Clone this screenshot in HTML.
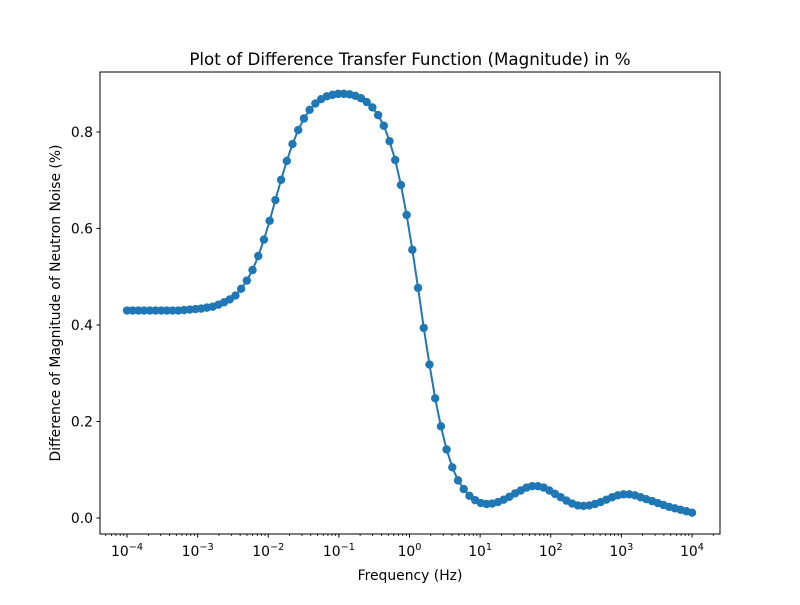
<!DOCTYPE html>
<html><head><meta charset="utf-8"><style>
body{margin:0;background:#fff;}
svg text{font-family:"DejaVu Sans","Liberation Sans",sans-serif;fill:#000;}
</style></head><body>
<svg id="chart" width="800" height="600" xmlns="http://www.w3.org/2000/svg">
<rect width="800" height="600" fill="#fff"/>
<text x="410" y="65" font-size="16.7" text-anchor="middle">Plot of Difference Transfer Function (Magnitude) in %</text>
<text x="410" y="580" font-size="13.9" text-anchor="middle">Frequency (Hz)</text>
<text x="0" y="0" font-size="13.9" text-anchor="middle" transform="translate(60,303) rotate(-90)">Difference of Magnitude of Neutron Noise (%)</text>
<g id="ticks"></g>
<g id="marks"></g>
<rect x="100" y="72" width="620" height="462" fill="none" stroke="#000" stroke-width="1"/>
</svg>
<script>
const yValues=[0.430,0.430,0.430,0.430,0.430,0.430,0.430,0.430,0.430,0.430,
0.431,0.432,0.433,0.434,0.436,0.438,0.442,0.447,0.453,0.461,
0.475,0.492,0.514,0.543,0.577,0.616,0.659,0.701,0.740,0.775,
0.804,0.828,0.846,0.859,0.868,0.874,0.877,0.879,0.879,0.878,
0.875,0.870,0.862,0.851,0.835,0.813,0.781,0.742,0.690,0.628,
0.556,0.477,0.394,0.318,0.248,0.190,0.142,0.105,0.078,0.060,
0.046,0.037,0.031,0.029,0.030,0.033,0.038,0.044,0.051,0.057,
0.063,0.066,0.066,0.063,0.057,0.050,0.043,0.036,0.030,0.026,
0.025,0.026,0.029,0.033,0.038,0.043,0.047,0.049,0.049,0.047,
0.043,0.039,0.035,0.031,0.027,0.023,0.020,0.017,0.014,0.011];
const logStart=-4, logEnd=4;
const xTickExps=[-4,-3,-2,-1,0,1,2,3,4];
const yTicks=[0.0,0.2,0.4,0.6,0.8];
const yTickLabels=["0.0","0.2","0.4","0.6","0.8"];

const NS="http://www.w3.org/2000/svg";
function X(lg){return 127+(lg+4)*(692-127)/8;}
function Y(v){return 518-v*(518-132)/0.8;}
function mk(t,a,p){const e=document.createElementNS(NS,t);for(const k in a)e.setAttribute(k,a[k]);p.appendChild(e);return e;}
const tk=document.getElementById('ticks'), mg=document.getElementById('marks');
xTickExps.forEach(e=>{
  const x=X(e);
  const l=mk('line',{x1:x,x2:x,y1:534,y2:537.5,stroke:'#000'},tk);
  
  
  const t=mk('text',{x:x,y:556,'font-size':'13.9','text-anchor':'middle'},tk);
  
  
  t.textContent='10';
  const s=mk('tspan',{dy:-6,'font-size':'9.7'},t); s.textContent=String(e).replace('-','\u2212');
});
for(let e=-5;e<=4;e++){for(let m=2;m<=9;m++){const lg=e+Math.log10(m);const x=X(lg);if(x<100||x>720)continue;
  const l=mk('line',{x1:x,x2:x,y1:534,y2:536,stroke:'#000','stroke-width':0.8},tk);
  
  }}
yTicks.forEach((v,i)=>{
  const y=Y(v);
  const l=mk('line',{x1:96.5,x2:100,y1:y,y2:y,stroke:'#000'},tk);
  
  
  const t=mk('text',{x:93,y:y+5,'font-size':'13.9','text-anchor':'end'},tk);
  
  
  t.textContent=yTickLabels[i];
});
const n=yValues.length;
const pts=yValues.map((v,i)=>[X(logStart+(logEnd-logStart)*i/(n-1)),Y(v)]);
const pl=mk('polyline',{points:pts.map(p=>p.join(',')).join(' '),fill:'none',stroke:'#1f77b4','stroke-width':2},mg);


pts.forEach(p=>{
  const c=mk('circle',{cx:p[0],cy:p[1],r:4.2,fill:'#1f77b4'},mg);
  
  
});
</script>
</body></html>
